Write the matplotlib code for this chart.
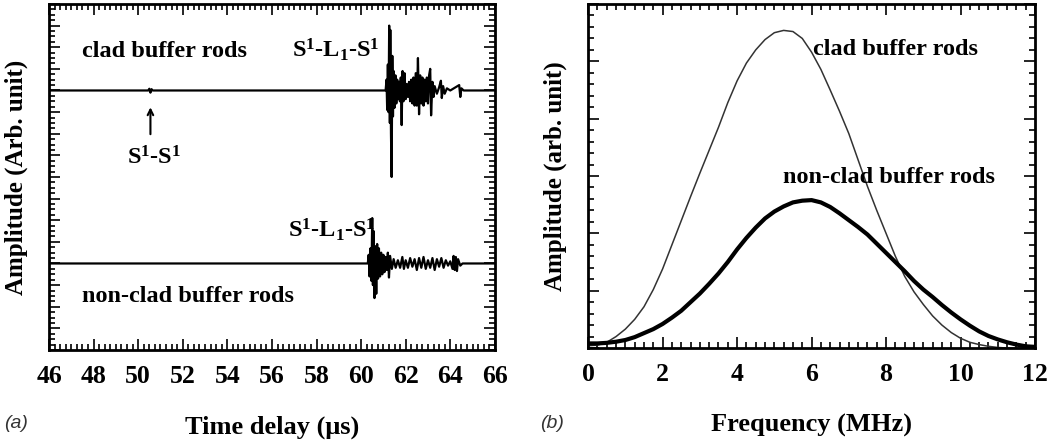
import matplotlib
matplotlib.use("Agg")
import matplotlib.pyplot as plt
from matplotlib.ticker import MultipleLocator

plt.rcParams['font.family'] = ['Liberation Serif', 'DejaVu Serif']
plt.rcParams['font.weight'] = 'bold'
plt.rcParams['axes.labelweight'] = 'bold'
plt.rcParams['mathtext.fontset'] = 'custom'
plt.rcParams['mathtext.rm'] = 'Liberation Serif:bold'
plt.rcParams['mathtext.it'] = 'Liberation Serif:bold'
plt.rcParams['mathtext.bf'] = 'Liberation Serif:bold'

# (a) time traces, amplitude relative to each baseline
clad_base = 12
clad_t = [46.0, 50.45, 50.5, 50.55, 50.6, 50.65, 61.10, 61.14, 61.17, 61.20, 61.23,
          61.26, 61.29, 61.31, 61.34, 61.37, 61.40, 61.43, 61.46, 61.50, 61.54,
          61.58, 61.62, 61.66, 61.70, 61.74, 61.78, 61.82, 61.86, 61.90, 61.95,
          62.00, 62.05, 62.10, 62.15, 62.20, 62.25, 62.30, 62.35, 62.40, 62.45,
          62.50, 62.55, 62.60, 62.65, 62.70, 62.75, 62.80, 62.85, 62.90, 62.95,
          63.00, 63.05, 63.10, 63.14, 63.20, 63.25, 63.30, 63.40, 63.50, 63.58,
          63.62, 63.68, 63.75, 63.85, 64.0, 64.40, 64.45, 64.50, 64.6, 66.0]
clad_a = [0, 0, 0.08, -0.1, 0.06, 0, 0, 0.5, -0.9, 1.2, -1.0,
          3.0, -1.5, 2.8, -2.0, -4.0, 1.6, -1.2, 0.9, -0.8, 0.7,
          -0.6, 0.5, -0.4, 0.4, -0.5, 0.6, -1.6, 0.9, -0.5, 0.8,
          -0.4, 0.3, -0.3, 0.4, -0.5, 0.5, -0.6, 0.6, -0.7, 0.8,
          -0.7, 1.5, -1.1, 0.7, -0.6, 0.6, -0.7, 0.5, -0.5, 0.6,
          -0.6, 0.7, 1.0, -1.15, 0.4, -0.3, 0.2, -0.15, 0.15, 0.45,
          -0.35, 0.2, -0.15, 0.1, 0, 0.25, -0.3, 0.1, 0, 0]

nonclad_base = 4
nonclad_t = [46.0, 60.30, 60.34, 60.38, 60.42, 60.46, 60.50, 60.53, 60.56, 60.60,
             60.64, 60.68, 60.72, 60.76, 60.80, 60.85, 60.90, 60.95, 61.00, 61.05,
             61.10, 61.15, 61.20, 61.25, 61.30, 61.38, 61.46, 61.55, 61.65, 61.75,
             61.85, 61.92, 62.0, 62.1, 62.2, 62.3, 62.4, 62.5, 62.6, 62.7,
             62.8, 62.9, 63.0, 63.1, 63.2, 63.3, 63.4, 63.5, 63.6, 63.7,
             63.8, 63.9, 64.0, 64.1, 64.15, 64.2, 64.25, 64.3, 64.35, 64.45,
             64.55, 66.0]
nonclad_a = [0, 0, 0.4, -0.6, 0.7, -0.8, 2.1, -1.0, 1.5, -1.6,
             0.8, -1.4, 0.9, -0.7, 0.7, -0.6, 0.5, -0.5, 0.4, -0.4,
             0.3, -0.3, 0.5, -0.65, 0.35, -0.25, 0.2, -0.2, 0.15, -0.2,
             0.3, -0.25, 0.15, -0.2, 0.25, -0.15, 0.2, -0.3, 0.25, -0.2,
             0.3, -0.25, 0.15, -0.2, 0.25, -0.3, 0.2, -0.15, 0.25, -0.2,
             0.15, -0.1, 0.1, -0.25, 0.35, -0.3, 0.3, -0.35, 0.2, -0.1,
             0, 0]

# (b) spectra
freq = [0.0, 0.25, 0.5, 0.75, 1.0, 1.25, 1.5, 1.75, 2.0, 2.25, 2.5, 2.75, 3.0,
        3.25, 3.5, 3.75, 4.0, 4.25, 4.5, 4.75, 5.0, 5.25, 5.5, 5.75, 6.0,
        6.25, 6.5, 6.75, 7.0, 7.25, 7.5, 7.75, 8.0, 8.25, 8.5, 8.75, 9.0,
        9.25, 9.5, 9.75, 10.0, 10.25, 10.5, 10.75, 11.0, 11.25, 11.5, 11.75, 12.0]
clad_spec = [0.04, 0.05, 0.10, 0.20, 0.33, 0.50, 0.72, 1.02, 1.38, 1.80, 2.22, 2.64, 3.05,
             3.45, 3.85, 4.28, 4.66, 4.97, 5.20, 5.38, 5.50, 5.54, 5.52, 5.40, 5.16,
             4.86, 4.50, 4.13, 3.74, 3.28, 2.82, 2.40, 2.00, 1.60, 1.25, 0.98, 0.76,
             0.56, 0.40, 0.27, 0.17, 0.10, 0.06, 0.03, 0.01, 0.0, 0.0, 0.0, 0.0]
nonclad_spec = [0.08, 0.08, 0.09, 0.11, 0.14, 0.19, 0.26, 0.33, 0.42, 0.53, 0.65, 0.80, 0.95,
                1.12, 1.30, 1.50, 1.72, 1.92, 2.10, 2.26, 2.38, 2.47, 2.54, 2.57, 2.58,
                2.54, 2.46, 2.35, 2.23, 2.11, 1.98, 1.82, 1.66, 1.50, 1.34, 1.17, 1.02,
                0.89, 0.75, 0.62, 0.50, 0.39, 0.29, 0.21, 0.15, 0.10, 0.06, 0.03, 0.02]

fig = plt.figure(figsize=(10.54, 4.43), dpi=100)
ax1 = fig.add_axes([0.0465, 0.210, 0.423, 0.781])
ax2 = fig.add_axes([0.558, 0.2144, 0.424, 0.7765])


def style(ax):
    for s in ax.spines.values():
        s.set_linewidth(2)
    ax.tick_params(which='both', direction='in', top=True, right=True, width=1.2)
    ax.tick_params(which='major', length=8, labelsize=18.5, pad=11)
    ax.tick_params(which='minor', length=4)
    ax.tick_params(axis='y', labelleft=False)


# panel (a)
ax1.plot(clad_t, [clad_base + a for a in clad_a], color='black', lw=1.6)
ax1.plot(nonclad_t, [nonclad_base + a for a in nonclad_a], color='black', lw=1.6)
ax1.set_xlim(46, 66)
ax1.set_ylim(0, 16)
ax1.xaxis.set_major_locator(MultipleLocator(2))
ax1.xaxis.set_minor_locator(MultipleLocator(0.25))
ax1.yaxis.set_major_locator(MultipleLocator(1))
ax1.yaxis.set_minor_locator(MultipleLocator(0.25))
style(ax1)
ax1.set_xlabel('Time delay (\u03bcs)', fontsize=19, labelpad=20)
ax1.set_ylabel('Amplitude (Arb. unit)', fontsize=18, labelpad=12)

fs = 17.5
ax1.text(47.5, 13.8, 'clad buffer rods', fontsize=fs, va='center')
ax1.text(56.9, 13.9, r'S$\mathrm{^1}$-L$\mathrm{_1}$-S$\mathrm{^1}$', fontsize=fs, va='center')
ax1.text(56.7, 5.55, r'S$\mathrm{^1}$-L$\mathrm{_1}$-S$\mathrm{^1}$', fontsize=fs, va='center')
ax1.text(47.48, 2.45, 'non-clad buffer rods', fontsize=fs, va='center')
ax1.text(49.5, 8.9, r'S$\mathrm{^1}$-S$\mathrm{^1}$', fontsize=fs, va='center')
ax1.annotate('', xy=(50.55, 11.35), xytext=(50.55, 9.85),
             arrowprops=dict(arrowstyle='->', color='black', lw=1.5))

# panel (b)
ax2.plot(freq, clad_spec, color='#333333', lw=1.1)
ax2.plot(freq, nonclad_spec, color='black', lw=3)
ax2.set_xlim(0, 12)
ax2.set_ylim(0, 6)
ax2.xaxis.set_major_locator(MultipleLocator(2))
ax2.xaxis.set_minor_locator(MultipleLocator(0.25))
ax2.yaxis.set_major_locator(MultipleLocator(1))
ax2.yaxis.set_minor_locator(MultipleLocator(0.2))
style(ax2)
ax2.set_xlabel('Frequency (MHz)', fontsize=19, labelpad=20)
ax2.set_ylabel('Amplitude (arb. unit)', fontsize=18, labelpad=12)

ax2.text(6.04, 5.2, 'clad buffer rods', fontsize=fs, va='center')
ax2.text(5.23, 2.98, 'non-clad buffer rods', fontsize=fs, va='center')

fig.text(0.004, 0.033, '(a)', fontsize=14, family='Liberation Sans', weight='normal',
         style='italic', color='#333333')
fig.text(0.512, 0.033, '(b)', fontsize=14, family='Liberation Sans', weight='normal',
         style='italic', color='#333333')

fig.savefig('out.png', dpi=100)
